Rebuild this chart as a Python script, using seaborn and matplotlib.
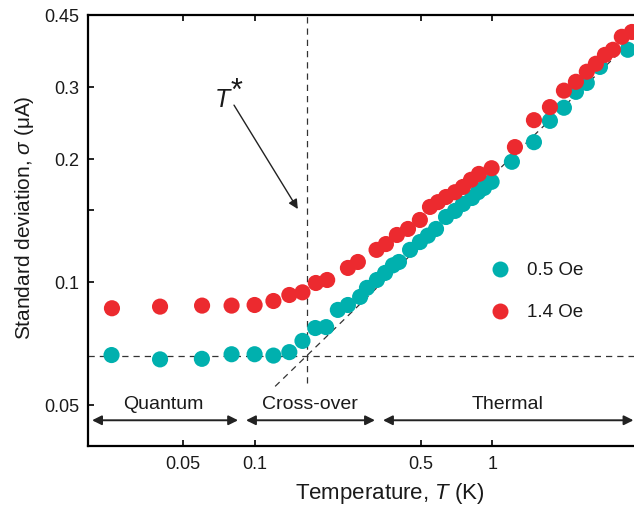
import matplotlib
matplotlib.use("Agg")
import matplotlib.pyplot as plt
from matplotlib.lines import Line2D
import numpy as np
import pandas as pd
import seaborn as sns

# ---------------- data ----------------
T_05 = [0.025, 0.040, 0.060, 0.080, 0.100, 0.120, 0.140, 0.159, 0.180, 0.200,
        0.224, 0.247, 0.278, 0.297, 0.327, 0.354, 0.382, 0.405, 0.451, 0.496,
        0.536, 0.580, 0.639, 0.697, 0.753, 0.822, 0.871, 0.923, 0.994, 1.21,
        1.498, 1.749, 2.003, 2.25, 2.50, 2.84, 3.72]
S_05 = [0.0664, 0.0648, 0.0650, 0.0667, 0.0667, 0.0662, 0.0675, 0.0719, 0.0773, 0.0777,
        0.0856, 0.0880, 0.0921, 0.0969, 0.1013, 0.1054, 0.1100, 0.1121, 0.1200, 0.1254,
        0.1300, 0.1350, 0.1444, 0.1494, 0.1554, 0.1607, 0.1660, 0.1700, 0.1760, 0.197,
        0.220, 0.248, 0.267, 0.292, 0.307, 0.336, 0.370]

T_14 = [0.0251, 0.040, 0.0601, 0.080, 0.100, 0.120, 0.140, 0.159, 0.181, 0.202,
        0.247, 0.272, 0.326, 0.357, 0.397, 0.442, 0.496, 0.547, 0.591, 0.639,
        0.697, 0.753, 0.814, 0.879, 0.994, 1.246, 1.498, 1.749, 2.003, 2.25,
        2.50, 2.73, 2.98, 3.22, 3.51, 3.87]
S_14 = [0.0864, 0.0872, 0.0877, 0.0877, 0.0880, 0.0900, 0.0931, 0.0945, 0.0996, 0.1013,
        0.1084, 0.1121, 0.1200, 0.1240, 0.1305, 0.1350, 0.1420, 0.1528, 0.1570, 0.1616,
        0.1660, 0.1710, 0.1780, 0.1840, 0.1900, 0.214, 0.249, 0.268, 0.294, 0.309,
        0.327, 0.342, 0.3595, 0.370, 0.398, 0.409]

labels = ["0.5 Oe", "1.4 Oe"]
colors = ["#00B0AE", "#EC2A2F"]

x_ticks = [0.05, 0.1, 0.5, 1]
x_ticklabels = ["0.05", "0.1", "0.5", "1"]
y_ticks = [0.05, 0.1, 0.15, 0.2, 0.3, 0.45]
y_ticklabels = ["0.05", "0.1", "", "0.2", "0.3", "0.45"]

# reference lines
T_star = 0.166
sigma_q = 0.0662
slope = 0.563

df = pd.concat([
    pd.DataFrame({"T": T_05, "sigma": S_05, "field": labels[0]}),
    pd.DataFrame({"T": T_14, "sigma": S_14, "field": labels[1]}),
], ignore_index=True)

# ---------------- style ----------------
sns.set_theme(style="ticks")
plt.rcParams["font.family"] = ["Liberation Sans", "DejaVu Sans"]
plt.rcParams["mathtext.fontset"] = "custom"
plt.rcParams["mathtext.rm"] = "Liberation Sans"
plt.rcParams["mathtext.it"] = "Liberation Sans:italic"

txt_col = "#1a1a1a"

fig = plt.figure(figsize=(6.34, 5.12), dpi=100)
ax = fig.add_axes([88/634, 1 - 446/512, (634 - 88)/634, (446 - 15)/512])

ax.set_xscale("log")
ax.set_yscale("log")
ax.set_xlim(0.0199, 3.95)
ax.set_ylim(0.0398, 0.45)

# dashed guide lines
dash_kw = dict(color="#333333", lw=0.9, ls=(0, (5, 4)), zorder=1)
ax.plot([0.0199, 3.95], [sigma_q, sigma_q], **dash_kw)
ax.plot([T_star, T_star], [0.0567, 0.45], **dash_kw)
Tl = np.array([0.122, 3.7])
ax.plot(Tl, sigma_q * (Tl / T_star) ** slope, **dash_kw)

sns.scatterplot(data=df, x="T", y="sigma", hue="field", palette=colors,
                hue_order=labels, s=135, linewidth=0, alpha=1, ax=ax,
                legend=False, zorder=3)

ax.set_xticks(x_ticks)
ax.set_xticklabels(x_ticklabels)
ax.set_yticks(y_ticks)
ax.set_yticklabels(y_ticklabels)
ax.minorticks_off()
ax.tick_params(which="major", direction="in", length=4, width=1.2,
               labelsize=13, colors="black", labelcolor=txt_col,
               top=True, right=False)
ax.tick_params(axis="x", pad=7)
ax.tick_params(axis="y", pad=6)
for s in ["left", "bottom", "top"]:
    ax.spines[s].set_linewidth(1.6)
    ax.spines[s].set_color("black")
ax.spines["right"].set_visible(False)

ax.set_xlabel(r"Temperature, $\mathit{T}$ (K)", fontsize=16, color=txt_col)
ax.set_ylabel(r"Standard deviation, $\mathit{\sigma}$ ($\mathrm{\mu}$A)",
              fontsize=15, color=txt_col)
ax.xaxis.set_label_coords((390 - 88) / 546, -(494 - 446) / 431)
ax.yaxis.set_label_coords(-(88 - 25) / 546, (446 - 218) / 431)
ax.xaxis.label.set_va("center")
ax.yaxis.label.set_va("center")

# T* annotation
ax.annotate("", xy=(0.152, 0.151), xytext=(0.0819, 0.271),
            arrowprops=dict(arrowstyle="-|>", lw=1.0, color="#222222",
                            mutation_scale=14, shrinkA=0, shrinkB=0))
ax.text(0.0735, 0.268, "T", fontsize=18, fontstyle="italic", ha="center",
        va="baseline", color=txt_col)
ax.text(0.0835, 0.2796, "*", fontsize=22, ha="center", va="baseline",
        color=txt_col)

# regime arrows
y_arr = 0.0460
y_lab = 0.0504
arr_kw = dict(arrowstyle="<|-|>", lw=1.4, color="#222222", mutation_scale=14,
              shrinkA=0, shrinkB=0)
for (x0, x1, xm, name) in [(0.0207, 0.0852, 0.0412, "Quantum"),
                           (0.092, 0.321, 0.171, "Cross-over"),
                           (0.347, 3.93, 1.164, "Thermal")]:
    ax.annotate("", xy=(x1, y_arr), xytext=(x0, y_arr), arrowprops=arr_kw)
    ax.text(xm, y_lab, name, fontsize=14, ha="center", va="center", color=txt_col)

# legend
handles = [Line2D([], [], marker="o", ls="none", color=c, markersize=11.5,
                  markeredgewidth=0) for c in colors]
leg = ax.legend(handles, labels, loc="center left", bbox_to_anchor=(0.7064, 0.358),
                frameon=False, fontsize=13.5, handlelength=1.0, handletextpad=0.94,
                labelspacing=1.33, borderpad=0.4, borderaxespad=0.5)
for t in leg.get_texts():
    t.set_color(txt_col)

fig.savefig("out.png", dpi=100)
